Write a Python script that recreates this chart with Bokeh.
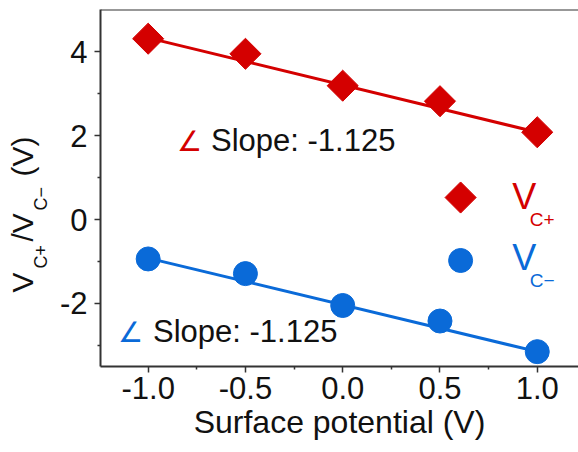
import math
from bokeh.plotting import figure
from bokeh.layouts import row
from bokeh.models import Label, Span, FixedTicker, Range1d
from bokeh.embed import file_html
from bokeh.resources import INLINE

# ---------------- data ----------------
surface_potential = [-1.0, -0.5, 0.0, 0.5, 1.0]
vc_plus = [4.31, 3.95, 3.19, 2.82, 2.08]
vc_minus = [-0.94, -1.29, -2.05, -2.42, -3.15]

fit_x = [-1.0, 1.0]
vc_plus_fit = [4.33, 2.08]
vc_minus_fit = [-0.92, -3.15]
slope_text = "Slope: -1.125"

x_ticks = [-1.0, -0.5, 0.0, 0.5, 1.0]
x_tick_labels = ["-1.0", "-0.5", "0.0", "0.5", "1.0"]
x_minor = [-1.25, -0.75, -0.25, 0.25, 0.75]
y_ticks = [-2, 0, 2, 4]
y_tick_labels = ["-2", "0", "2", "4"]
y_minor = [-3, -1, 1, 3]

# y-axis title pieces (text, is_subscript)
y_title_parts = [("V", False), ("C+", True), ("/V", False), ("C\u2212", True), ("(V)", False)]

# ---------------- style ----------------
RED = "#d40000"
BLUE = "#0a6ad8"
AXC = "#333333"
TXT = "#111111"
FONT = "Liberation Sans"
W, H = 578, 452
LW = 56  # width of the strip holding the y title
FRAME_LEFT, FRAME_TOP, FRAME_BOTTOM = 100, 9, 366
BASE_K = 0.36  # empirical baseline correction (fraction of font size)

p = figure(width=W - LW, height=H,
           x_range=Range1d(-1.245, 1.212), y_range=Range1d(-3.504, 5.006),
           output_backend="svg", toolbar_location=None,
           min_border_left=FRAME_LEFT - LW, min_border_right=0,
           min_border_top=FRAME_TOP, min_border_bottom=H - FRAME_BOTTOM)
p.outline_line_color = None
p.grid.visible = False
p.background_fill_color = "white"
p.border_fill_color = "white"

for ax in (p.xaxis[0], p.yaxis[0]):
    ax.axis_line_color = AXC
    ax.axis_line_width = 2
    ax.major_tick_line_color = AXC
    ax.minor_tick_line_color = AXC
    ax.major_tick_line_width = 1.5
    ax.minor_tick_line_width = 1.5
    ax.major_tick_in = 0
    ax.major_tick_out = 6
    ax.minor_tick_in = 0
    ax.minor_tick_out = 3
    ax.major_label_text_font = FONT
    ax.major_label_text_font_size = "31px"
    ax.major_label_text_color = TXT

p.xaxis.ticker = FixedTicker(ticks=x_ticks, minor_ticks=x_minor)
p.xaxis.major_label_overrides = {t: l for t, l in zip(x_ticks, x_tick_labels)}
p.xaxis.major_label_standoff = 4
p.xaxis.axis_label = "Surface potential (V)"
p.xaxis.axis_label_text_font = FONT
p.xaxis.axis_label_text_font_size = "32px"
p.xaxis.axis_label_text_font_style = "normal"
p.xaxis.axis_label_text_color = TXT
p.xaxis.axis_label_standoff = 2

p.yaxis.ticker = FixedTicker(ticks=y_ticks, minor_ticks=y_minor)
p.yaxis.major_label_overrides = {t: l for t, l in zip(y_ticks, y_tick_labels)}
p.yaxis.major_label_standoff = 7

p.add_layout(Span(location=p.y_range.end, dimension="width", line_color=AXC, line_width=2))

# fit lines
p.line(fit_x, vc_plus_fit, line_color=RED, line_width=3)
p.line(fit_x, vc_minus_fit, line_color=BLUE, line_width=3)

# data markers
p.scatter(surface_potential, vc_plus, marker="square", size=22, angle=math.pi / 4,
          fill_color=RED, line_color=RED)
p.scatter(surface_potential, vc_minus, marker="circle", size=24,
          fill_color=BLUE, line_color=BLUE)

# legend (manual, to allow subscripts)
p.scatter([0.606], [0.524], marker="square", size=22, angle=math.pi / 4,
          fill_color=RED, line_color=RED)
p.scatter([0.606], [-0.977], marker="circle", size=24, fill_color=BLUE, line_color=BLUE)


def lab(fig, x, y, text, size_px, color, font=FONT, rotated=False):
    shift = BASE_K * size_px
    fig.add_layout(Label(x=x, y=y, text=text, text_font=font,
                         text_font_size=f"{size_px}px",
                         text_color=color, text_align="left", text_baseline="alphabetic",
                         angle=math.pi / 2 if rotated else 0.0,
                         x_offset=-shift if rotated else 0,
                         y_offset=0 if rotated else shift))


lab(p, 0.872, 0.238, "V", 36, RED)
lab(p, 0.962, -0.155, "C+", 19, RED)
lab(p, 0.872, -1.216, "V", 36, BLUE)
lab(p, 0.962, -1.621, "C\u2212", 19, BLUE)

# slope annotations
lab(p, -0.852, 1.621, "\u2220", 28, RED, font="DejaVu Sans")
lab(p, -0.677, 1.621, slope_text, 31, TXT)
lab(p, -1.155, -2.932, "\u2220", 28, BLUE, font="DejaVu Sans")
lab(p, -0.975, -2.932, slope_text, 31, TXT)

# ---- strip with the rotated y title (coordinates = page pixels, y downward) ----
lf = figure(width=LW, height=H, x_range=Range1d(0, LW),
            y_range=Range1d(FRAME_BOTTOM, FRAME_TOP),
            output_backend="svg", toolbar_location=None,
            min_border_left=0, min_border_right=0,
            min_border_top=FRAME_TOP, min_border_bottom=H - FRAME_BOTTOM,
            x_axis_location=None, y_axis_location=None)
lf.outline_line_color = None
lf.grid.visible = False
lf.background_fill_color = "white"
lf.border_fill_color = "white"

main_base, sub_base = 33, 47
starts = [292, 268, 241, 210, 176]
for (txt, is_sub), ys in zip(y_title_parts, starts):
    lab(lf, sub_base if is_sub else main_base, ys, txt,
        18 if is_sub else 30, TXT, rotated=True)

layout = row(lf, p, spacing=0)
open("out.html", "w").write(file_html(layout, INLINE))
